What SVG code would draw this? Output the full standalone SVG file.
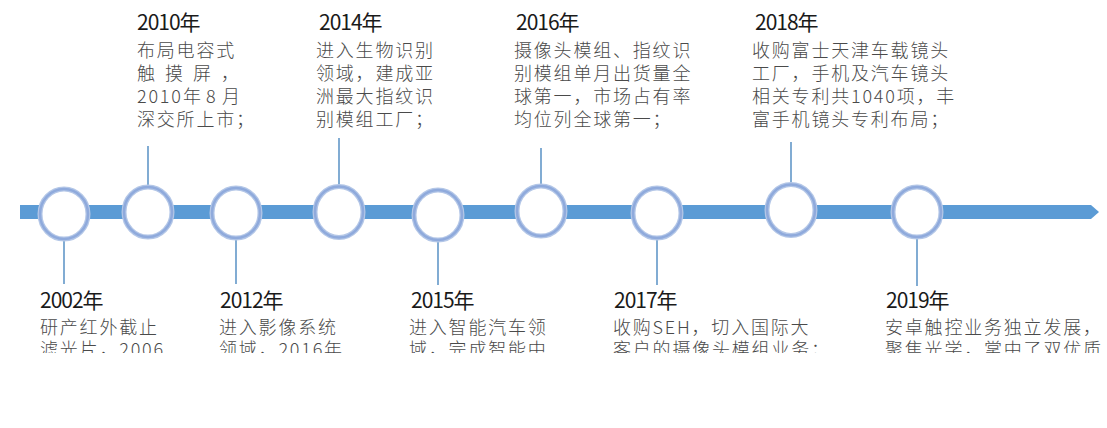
<svg xmlns="http://www.w3.org/2000/svg" width="1107" height="428" viewBox="0 0 1107 428">
<style>
.yr{font-family:"Noto Sans CJK SC","Liberation Sans",sans-serif;font-size:21px;fill:#1a1a1a;letter-spacing:-1px}
.tx{font-family:"Noto Sans CJK SC","Liberation Sans",sans-serif;font-size:18px;fill:#4a4a4a;letter-spacing:1.8px;font-weight:300}
.ring-o{fill:#ffffff;stroke:#b4c7e7;stroke-width:5}
.ring-i{fill:none;stroke:#8faadc;stroke-width:2.5}
.ln{stroke:#2e75b6;stroke-width:1.2;fill:none}
</style>
<defs>
<clipPath id="cut"><rect x="0" y="0" width="1107" height="353"/></clipPath>
</defs>
<g id="timeline-bar">
<rect x="20" y="205" width="1071" height="14" fill="#5b9bd5"/>
<polygon points="1091,205 1099,212 1091,219" fill="#5b9bd5"/>
</g>
<g id="connectors">
<line class="ln" x1="148" y1="146" x2="148" y2="187"/>
<line class="ln" x1="339" y1="138" x2="339" y2="186"/>
<line class="ln" x1="541" y1="148" x2="541" y2="186"/>
<line class="ln" x1="791" y1="142" x2="791" y2="185"/>
<line class="ln" x1="64" y1="239" x2="64" y2="284"/>
<line class="ln" x1="236" y1="238" x2="236" y2="284"/>
<line class="ln" x1="438" y1="240" x2="438" y2="285"/>
<line class="ln" x1="657" y1="238" x2="657" y2="285"/>
<line class="ln" x1="917" y1="237" x2="917" y2="286"/>
</g>
<g id="node-2002">
<ellipse class="ring-o" cx="64" cy="214" rx="24" ry="25"/><ellipse class="ring-i" cx="64" cy="214" rx="24" ry="25"/>
<text class="yr" x="40" y="308">2002年</text>
<g clip-path="url(#cut)">
<text class="tx" x="40" y="334">研产红外截止</text>
<text class="tx" x="40" y="356">滤光片，2006</text>
</g>
</g>
<g id="node-2010">
<ellipse class="ring-o" cx="148" cy="212" rx="24" ry="25"/><ellipse class="ring-i" cx="148" cy="212" rx="24" ry="25"/>
<text class="yr" x="137" y="30">2010年</text>
<text class="tx" x="137" y="57">布局电容式</text>
<text class="tx" x="137 165 193 221" y="80">触摸屏，</text>
<text class="tx" y="103"><tspan x="137">2010</tspan><tspan x="183">年</tspan><tspan x="206">8</tspan><tspan x="222">月</tspan></text>
<text class="tx" x="137" y="126">深交所上市；</text>
</g>
<g id="node-2012">
<ellipse class="ring-o" cx="236" cy="213" rx="24" ry="25"/><ellipse class="ring-i" cx="236" cy="213" rx="24" ry="25"/>
<text class="yr" x="220" y="308">2012年</text>
<g clip-path="url(#cut)">
<text class="tx" x="219" y="334">进入影像系统</text>
<text class="tx" x="219" y="356">领域，2016年</text>
</g>
</g>
<g id="node-2014">
<ellipse class="ring-o" cx="339" cy="212" rx="24" ry="25.5"/><ellipse class="ring-i" cx="339" cy="212" rx="24" ry="25.5"/>
<text class="yr" x="319" y="30">2014年</text>
<text class="tx" x="316" y="57">进入生物识别</text>
<text class="tx" x="316" y="80">领域，建成亚</text>
<text class="tx" x="316" y="103">洲最大指纹识</text>
<text class="tx" x="316" y="126">别模组工厂；</text>
</g>
<g id="node-2015">
<ellipse class="ring-o" cx="438" cy="215" rx="24" ry="25"/><ellipse class="ring-i" cx="438" cy="215" rx="24" ry="25"/>
<text class="yr" x="411" y="308">2015年</text>
<g clip-path="url(#cut)">
<text class="tx" x="409" y="334">进入智能汽车领</text>
<text class="tx" x="409" y="356">域，完成智能中</text>
</g>
</g>
<g id="node-2016">
<ellipse class="ring-o" cx="541" cy="211" rx="24" ry="25"/><ellipse class="ring-i" cx="541" cy="211" rx="24" ry="25"/>
<text class="yr" x="516" y="30">2016年</text>
<text class="tx" x="514" y="57">摄像头模组、指纹识</text>
<text class="tx" x="514" y="80">别模组单月出货量全</text>
<text class="tx" x="514" y="103">球第一，市场占有率</text>
<text class="tx" x="514" y="126">均位列全球第一；</text>
</g>
<g id="node-2017">
<ellipse class="ring-o" cx="657" cy="213" rx="24" ry="25"/><ellipse class="ring-i" cx="657" cy="213" rx="24" ry="25"/>
<text class="yr" x="614" y="308">2017年</text>
<g clip-path="url(#cut)">
<text class="tx" x="613" y="334">收购SEH，切入国际大</text>
<text class="tx" x="613" y="356">客户的摄像头模组业务；</text>
</g>
</g>
<g id="node-2018">
<ellipse class="ring-o" cx="791" cy="210" rx="24" ry="25.5"/><ellipse class="ring-i" cx="791" cy="210" rx="24" ry="25.5"/>
<text class="yr" x="755" y="30">2018年</text>
<text class="tx" x="752" y="57">收购富士天津车载镜头</text>
<text class="tx" x="752" y="80">工厂，手机及汽车镜头</text>
<text class="tx" x="752" y="103">相关专利共1040项，丰</text>
<text class="tx" x="752" y="126">富手机镜头专利布局；</text>
</g>
<g id="node-2019">
<ellipse class="ring-o" cx="917" cy="212" rx="24" ry="25"/><ellipse class="ring-i" cx="917" cy="212" rx="24" ry="25"/>
<text class="yr" x="886" y="308">2019年</text>
<g clip-path="url(#cut)">
<text class="tx" x="885" y="334">安卓触控业务独立发展，</text>
<text class="tx" x="885" y="356">聚焦光学，掌中了双优质</text>
</g>
</g>
</svg>
